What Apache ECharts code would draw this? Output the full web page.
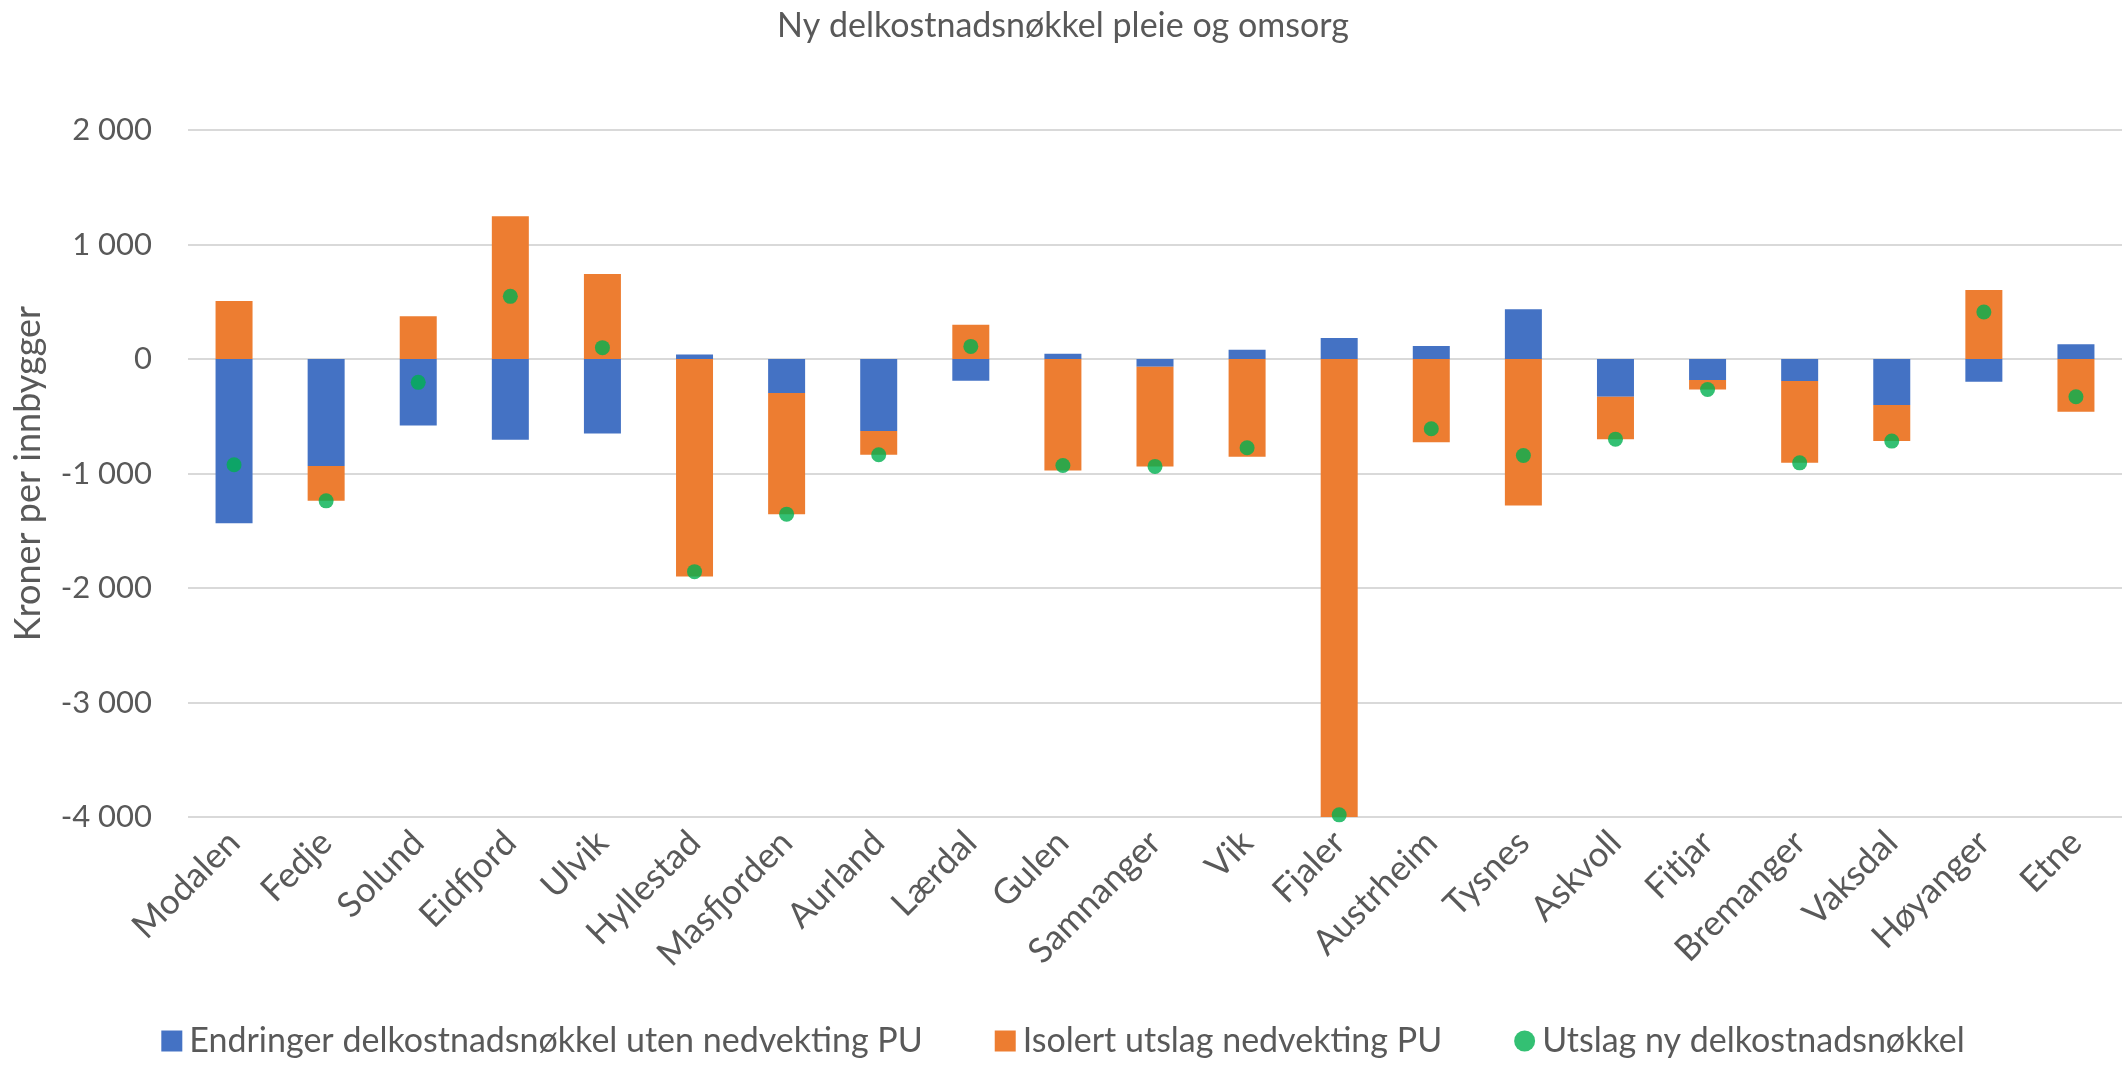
<!DOCTYPE html>
<html>
<head>
<meta charset="utf-8">
<title>Ny delkostnadsnøkkel pleie og omsorg</title>
<script src="https://cdn.jsdelivr.net/npm/echarts@6/dist/echarts.min.js"></script>
<style>
  html, body { margin: 0; padding: 0; background: #fff; }
  #chart { width: 2126px; height: 1065px; }
</style>
</head>
<body>
<div id="chart"></div>
<script>
// kommuner
var kommuner = ["Modalen", "Fedje", "Solund", "Eidfjord", "Ulvik", "Hyllestad", "Masfjorden",
  "Aurland", "Lærdal", "Gulen", "Samnanger", "Vik", "Fjaler", "Austrheim", "Tysnes",
  "Askvoll", "Fitjar", "Bremanger", "Vaksdal", "Høyanger", "Etne"];

// kroner per innbygger, lest av figuren
var endringer = [-1434, -935, -580, -705, -650, 40, -297, -629, -190, 46, -67, 81, 184, 113, 434,
  -330, -184, -192, -402, -198, 128];
var isolert = [507, -304, 373, 1247, 743, -1900, -1058, -207, 300, -974, -871, -854, -4165, -726, -1280,
  -370, -82, -715, -315, 603, -461];
var utslag = [-924, -1239, -204, 547, 99, -1857, -1355, -836, 110, -930, -938, -775, -3981, -609, -843,
  -700, -266, -907, -717, 411, -330];

var yTicks = { min: -4000, max: 2000, interval: 1000 };

var tekst = "#595959";
var font = "Lato, 'Open Sans', sans-serif";

var myChart = echarts.init(document.getElementById("chart"));

function tusen(v) {
  var s = String(Math.abs(v)).replace(/\B(?=(\d{3})+(?!\d))/g, " ");
  return (v < 0 ? "-" : "") + s;
}

var option = {
  backgroundColor: "#fff",
  textStyle: { fontFamily: font, color: tekst },
  title: {
    text: "Ny delkostnadsnøkkel pleie og omsorg",
    left: "center",
    top: 4,
    textStyle: { fontFamily: font, fontSize: 34, fontWeight: "normal", color: tekst }
  },
  legend: {
    bottom: 2,
    left: "center",
    itemGap: 72,
    itemWidth: 21,
    itemHeight: 21,
    textStyle: { fontFamily: font, fontSize: 34, color: tekst, padding: [0, 0, 0, 2] },
    data: [
      { name: "Endringer delkostnadsnøkkel uten nedvekting PU", icon: "rect" },
      { name: "Isolert utslag nedvekting PU", icon: "rect" },
      { name: "Utslag ny delkostnadsnøkkel", icon: "circle", itemStyle: { color: "#00B050" } }
    ]
  },
  grid: {
    left: 188,
    right: 4,
    top: 130,
    bottom: 248
  },
  xAxis: {
    type: "category",
    data: kommuner,
    axisLine: { show: false, onZero: false },
    axisTick: { show: false },
    axisLabel: {
      rotate: 45,
      margin: 20,
      interval: 0,
      fontFamily: font,
      fontSize: 35,
      color: tekst
    }
  },
  yAxis: {
    type: "value",
    min: yTicks.min,
    max: yTicks.max,
    interval: yTicks.interval,
    name: "Kroner per innbygger",
    nameLocation: "middle",
    nameGap: 142,
    nameTextStyle: { fontFamily: font, fontSize: 36, color: tekst },
    axisLine: { show: false },
    axisTick: { show: false },
    splitLine: { lineStyle: { color: "#D9D9D9", width: 2 } },
    axisLabel: {
      margin: 36,
      fontFamily: font,
      fontSize: 31,
      color: tekst,
      formatter: tusen
    }
  },
  series: [
    {
      name: "Endringer delkostnadsnøkkel uten nedvekting PU",
      type: "bar",
      stack: "total",
      barWidth: 37,
      itemStyle: { color: "#4472C4" },
      data: endringer
    },
    {
      name: "Isolert utslag nedvekting PU",
      type: "bar",
      stack: "total",
      barWidth: 37,
      itemStyle: { color: "#ED7D31" },
      data: isolert
    },
    {
      name: "Utslag ny delkostnadsnøkkel",
      type: "scatter",
      symbol: "circle",
      symbolSize: 15,
      itemStyle: { color: "#00B050" },
      z: 5,
      data: utslag
    }
  ]
};

myChart.setOption(option);
</script>
</body>
</html>
